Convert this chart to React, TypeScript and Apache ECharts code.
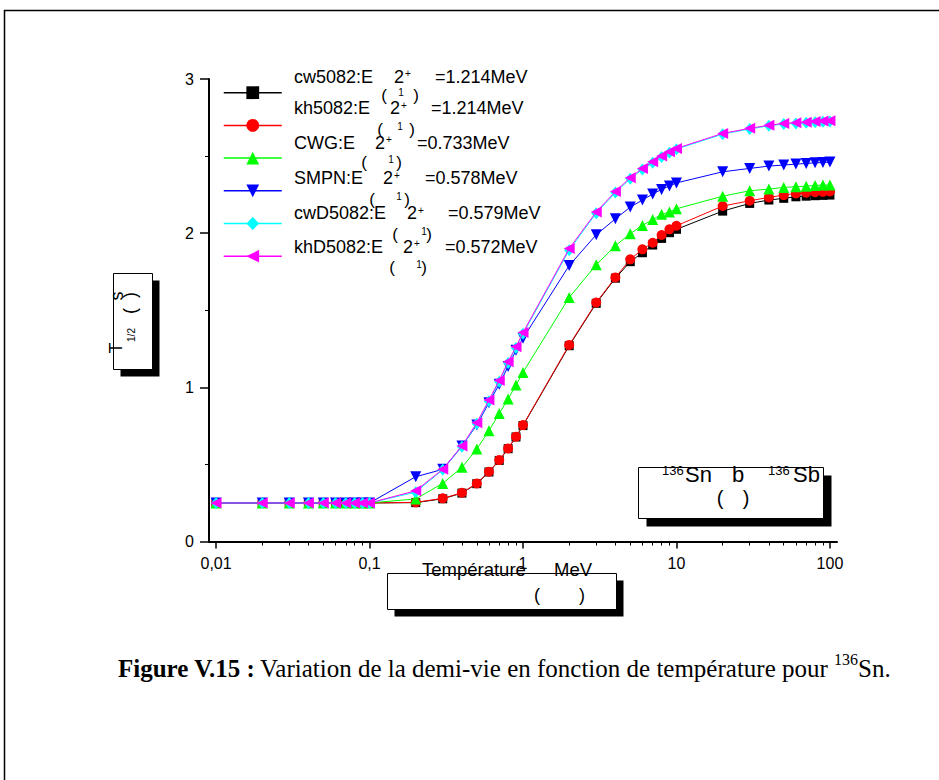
import React, { useEffect, useRef } from 'react';
import * as echarts from 'echarts';

// Temperature grid (MeV)
const temperatures = [
  0.01, 0.02, 0.03, 0.04, 0.05, 0.06, 0.07, 0.08, 0.09, 0.1,
  0.2, 0.3, 0.4, 0.5, 0.6, 0.7, 0.8, 0.9, 1,
  2, 3, 4, 5, 6, 7, 8, 9, 10,
  20, 30, 40, 50, 60, 70, 80, 90, 100,
];

const lowT = [0.25, 0.25, 0.25, 0.25, 0.25, 0.25, 0.25, 0.25, 0.25, 0.25];

const cw5082 = [...lowT,
  0.252, 0.277, 0.314, 0.375, 0.451, 0.526, 0.602, 0.678, 0.752,
  1.27, 1.545, 1.708, 1.815, 1.873, 1.923, 1.966, 2.003, 2.025,
  2.143, 2.193, 2.215, 2.226, 2.236, 2.24, 2.243, 2.245, 2.247];

const kh5082 = [...lowT,
  0.254, 0.28, 0.316, 0.377, 0.453, 0.528, 0.604, 0.68, 0.755,
  1.275, 1.55, 1.713, 1.83, 1.895, 1.938, 1.988, 2.025, 2.048,
  2.176, 2.21, 2.232, 2.247, 2.258, 2.262, 2.266, 2.268, 2.27];

const cwg = [...lowT,
  0.276, 0.377, 0.481, 0.6, 0.718, 0.831, 0.924, 1.015, 1.097,
  1.583, 1.795, 1.918, 1.997, 2.05, 2.088, 2.122, 2.137, 2.158,
  2.24, 2.275, 2.286, 2.297, 2.301, 2.305, 2.31, 2.312, 2.312];

const smpn = [...lowT,
  0.42, 0.468, 0.619, 0.755, 0.9, 1.02, 1.135, 1.24, 1.318,
  1.79, 1.99, 2.093, 2.169, 2.215, 2.254, 2.284, 2.306, 2.326,
  2.398, 2.42, 2.435, 2.442, 2.448, 2.452, 2.456, 2.458, 2.461];

const cwD5082 = [...lowT,
  0.32, 0.465, 0.614, 0.763, 0.91, 1.037, 1.158, 1.255, 1.347,
  1.89, 2.13, 2.263, 2.353, 2.413, 2.456, 2.494, 2.522, 2.545,
  2.642, 2.676, 2.696, 2.708, 2.712, 2.716, 2.72, 2.723, 2.725];

const khD5082 = [...lowT,
  0.329, 0.468, 0.619, 0.77, 0.918, 1.045, 1.166, 1.263, 1.355,
  1.9, 2.137, 2.27, 2.36, 2.42, 2.463, 2.5, 2.528, 2.55,
  2.647, 2.68, 2.7, 2.712, 2.716, 2.72, 2.725, 2.727, 2.729];

const seriesNames = ['cw5082', 'kh5082', 'CWG', 'SMPN', 'cwD5082', 'khD5082'];
const seriesValues = [cw5082, kh5082, cwg, smpn, cwD5082, khD5082];
const seriesColors = ['#000000', '#ff0000', '#00ff00', '#0000ff', '#00ffff', '#ff00ff'];

const legendNames = ['cw5082:E', 'kh5082:E', 'CWG:E', 'SMPN:E', 'cwD5082:E', 'khD5082:E'];
const legendEnergies = ['=1.214MeV', '=1.214MeV', '=0.733MeV', '=0.578MeV', '=0.579MeV', '=0.572MeV'];

const xTickValues = [0.01, 0.1, 1, 10, 100];
const xTickLabels = ['0,01', '0,1', '1', '10', '100'];
const xMinorTickValues = [
  0.02, 0.03, 0.04, 0.05, 0.06, 0.07, 0.08, 0.09,
  0.2, 0.3, 0.4, 0.5, 0.6, 0.7, 0.8, 0.9,
  2, 3, 4, 5, 6, 7, 8, 9,
  20, 30, 40, 50, 60, 70, 80, 90,
];
const yTickLabels = ['0', '1', '2', '3'];

const captionBold = 'Figure V.15 :';
const captionText = 'Variation de la demi-vie en fonction de température pour';
const captionSup = '136';
const captionEnd = 'Sn.';

const SANS = '"Liberation Sans", Arial, sans-serif';
const SERIF = '"Liberation Serif", "Times New Roman", serif';

function boxWithShadow(x: number, y: number, w: number, h: number, off: number) {
  return [
    { type: 'rect', shape: { x: x + off, y: y + off, width: w, height: h }, style: { fill: '#000' }, z: 1 },
    { type: 'rect', shape: { x, y, width: w, height: h }, style: { fill: '#fff', stroke: '#000', lineWidth: 1 }, z: 2 },
  ];
}

function txt(text: string, x: number, y: number, size: number, opts: any = {}) {
  return {
    type: 'text',
    x,
    y,
    z: 5,
    rotation: opts.rotation || 0,
    style: {
      text,
      fill: '#000',
      font: `${opts.weight || 'normal'} ${size}px ${opts.family || SANS}`,
      align: opts.align || 'left',
      verticalAlign: opts.va || 'middle',
    },
  };
}

export default function App() {
  const ref = useRef<HTMLDivElement>(null);

  useEffect(() => {
    if (!ref.current) return;
    const chart = echarts.init(ref.current, null, { renderer: 'svg' });
    const lx = (v: number) => Math.log10(v);

    const symbols = ['rect', 'circle', 'triangle', 'triangle', 'diamond', 'triangle'];
    const rotates = [0, 0, 0, 180, 0, 90];
    const sizes: any[] = [9, 10, 11, 11, [10, 12], 11];

    const series = seriesNames.map((name, i) => ({
      name,
      type: 'line',
      xAxisIndex: 0,
      yAxisIndex: 0,
      data: temperatures.map((t, k) => [lx(t), seriesValues[i][k]]),
      symbol: symbols[i],
      symbolRotate: rotates[i],
      symbolSize: sizes[i],
      showAllSymbol: true,
      lineStyle: { color: seriesColors[i], width: 1 },
      itemStyle: { color: seriesColors[i] },
      z: 3 + i,
    }));

    // Legend texts (garbled Origin-style labels)
    const rowY = [76.7, 108.3, 142.7, 178.3, 213.3, 246.7];
    const twoX = [394, 390, 375, 383, 407, 403];
    const eqX = [435, 431, 417, 425, 448, 445];
    const parY = [95.5, 129, 162, 199, 234, 267];
    const parL = [384, 380, 364, 372, 395, 392];
    const parOne = [401, 400, 391, 399, 424, 419];
    const parR = [416, 412, 399, 407, 429, 424];

    const legendGraphics: any[] = [];
    legendNames.forEach((n, i) => {
      legendGraphics.push(txt(n, 294, rowY[i], 18));
      legendGraphics.push(txt('2', twoX[i], rowY[i], 18));
      legendGraphics.push(txt('+', twoX[i] + 11, rowY[i] - 3, 10));
      legendGraphics.push(txt(legendEnergies[i], eqX[i], rowY[i], 18));
      legendGraphics.push(txt('(', parL[i], parY[i], 17, { align: 'center' }));
      legendGraphics.push(txt('1', parOne[i], parY[i] - 3, 10, { align: 'center' }));
      legendGraphics.push(txt(')', parR[i], parY[i], 17, { align: 'center' }));
    });

    const graphics: any[] = [
      // outer frame
      { type: 'rect', shape: { x: 4.5, y: 10.5, width: 1000, height: 900 }, style: { fill: 'none', stroke: '#000', lineWidth: 1.5 }, z: 0 },
      // y title box
      ...boxWithShadow(113.5, 273.5, 39, 96, 7),
      txt('s', 117, 296, 18, { rotation: Math.PI / 2, align: 'center' }),
      txt('(', 130, 311, 18, { rotation: Math.PI / 2, align: 'center' }),
      txt(')', 130, 295, 18, { rotation: Math.PI / 2, align: 'center' }),
      txt('1/2', 131, 335, 10, { rotation: Math.PI / 2, align: 'center' }),
      txt('T', 116, 348, 18, { rotation: Math.PI / 2, align: 'center' }),
      // x title box
      ...boxWithShadow(387.5, 573.5, 229, 36, 7),
      txt('Température', 422, 569, 18.5),
      txt('MeV', 554, 569, 18.5),
      txt('(', 537, 595, 18, { align: 'center' }),
      txt(')', 582, 595, 18, { align: 'center' }),
      // reaction box
      ...boxWithShadow(638.5, 467.5, 185, 51, 8),
      txt('136', 662, 470, 13),
      txt('Sn', 685, 474, 22),
      txt('b', 732, 474, 22),
      txt('136', 768, 470, 13),
      txt('Sb', 793, 474, 22),
      txt('(', 720, 498, 20, { align: 'center' }),
      txt(')', 746, 498, 20, { align: 'center' }),
      // caption
      txt(captionBold, 118, 668, 25, { family: SERIF, weight: 'bold' }),
      txt(captionText, 260, 668, 25, { family: SERIF }),
      txt(captionSup, 834, 659, 16, { family: SERIF }),
      txt(captionEnd, 858, 668, 25, { family: SERIF }),
      ...legendGraphics,
    ];

    const xMin = -2.046;
    const xMax = 2.046;

    chart.setOption({
      animation: false,
      backgroundColor: '#ffffff',
      grid: { left: 209, top: 79, width: 628, height: 462.5, containLabel: false },
      legend: {
        orient: 'vertical',
        left: 223,
        top: 84.7,
        padding: 0,
        itemWidth: 58,
        itemHeight: 16,
        itemGap: 18.3,
        data: seriesNames,
        formatter: () => '',
        lineStyle: { width: 1.5 },
        selectedMode: false,
        textStyle: { fontSize: 1 },
      },
      xAxis: [
        {
          type: 'value',
          min: xMin,
          max: xMax,
          position: 'bottom',
          axisLine: { show: true, onZero: false, lineStyle: { color: '#000', width: 2 } },
          axisTick: { show: true, length: 7, customValues: xTickValues.map(lx), lineStyle: { color: '#000', width: 1.5 } },
          axisLabel: {
            show: true,
            customValues: xTickValues.map(lx),
            margin: 14,
            fontSize: 16,
            fontFamily: SANS,
            color: '#000',
            formatter: (v: number) => {
              const idx = xTickValues.findIndex((t) => Math.abs(lx(t) - v) < 1e-6);
              return idx >= 0 ? xTickLabels[idx] : '';
            },
          },
          splitLine: { show: false },
        },
        {
          type: 'value',
          min: xMin,
          max: xMax,
          position: 'bottom',
          axisLine: { show: false },
          axisTick: { show: true, length: 4, customValues: xMinorTickValues.map(lx), lineStyle: { color: '#000', width: 1 } },
          axisLabel: { show: false },
          splitLine: { show: false },
        },
      ],
      yAxis: {
        type: 'value',
        min: 0,
        max: 3,
        interval: 1,
        axisLine: { show: true, onZero: false, lineStyle: { color: '#000', width: 2 } },
        axisTick: { show: true, length: 9, lineStyle: { color: '#000', width: 1.5 } },
        minorTick: { show: true, splitNumber: 2, length: 4, lineStyle: { color: '#000', width: 1 } },
        axisLabel: {
          margin: 15,
          fontSize: 16,
          fontFamily: SANS,
          color: '#000',
          formatter: (v: number) => yTickLabels[Math.round(v)] ?? '',
        },
        splitLine: { show: false },
      },
      series,
      graphic: graphics,
    });

    return () => chart.dispose();
  }, []);

  return (
    <div
      ref={ref}
      style={{ position: 'fixed', left: 0, top: 0, width: 939, height: 780, background: '#fff' }}
    />
  );
}
